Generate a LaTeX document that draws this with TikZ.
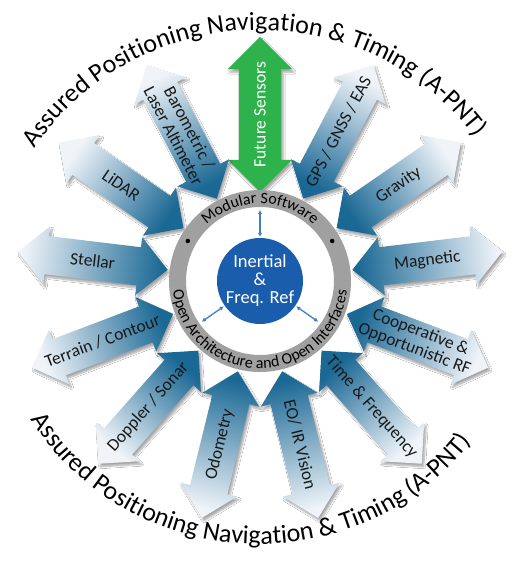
\documentclass[tikz,border=0pt]{standalone}
\usepackage{fontspec}
\setmainfont{Carlito}
\usetikzlibrary{shapes.arrows, decorations.text, shadows.blur, arrows.meta}

\definecolor{arrdark}{RGB}{26,104,148}
\definecolor{arrlight}{RGB}{240,244,249}
\definecolor{futgreen}{RGB}{46,179,76}
\definecolor{coreblue}{RGB}{25,93,172}
\definecolor{ringgray}{RGB}{160,160,160}
\definecolor{linkblue}{RGB}{62,128,200}

\newcommand\titlefont{\fontsize{26}{26}\selectfont}
\newcommand\ringfont{\fontsize{16}{16}\selectfont}

\tikzset{
  arrowbody/.style={double arrow, double arrow head extend=10pt,
    inner xsep=0pt, inner ysep=19pt, minimum height=151pt,
    blur shadow={shadow xshift=2pt, shadow yshift=-3pt,
      shadow blur steps=8, shadow opacity=35}},
  sensor/.style={arrowbody, top color=arrlight, bottom color=arrdark},
  future/.style={arrowbody, fill=futgreen, inner ysep=21pt,
    double arrow head extend=11pt, minimum height=155pt},
  sensortext/.style={font=\fontsize{17.5}{18}\selectfont, align=center,
    text=black!90, inner sep=0pt},
  ringdot/.style={circle, fill=black, inner sep=0pt, minimum size=4.5pt},
  link/.style={linkblue, line width=1.3pt,
    {Latex[length=4pt,width=4.5pt]}-{Latex[length=4pt,width=4.5pt]},
    shorten <=1pt}
}

\begin{document}
\begin{tikzpicture}[x=1pt, y=1pt]
\useasboundingbox (-260,-283) rectangle (260,281);
\fill[white] (-260,-283) rectangle (260,281);

% sensor arrows
\node[future, rotate=90] (future) at (90:166.5) {};
\node[sensortext, text=white, rotate=90] (future-t) at (future.center) {Future Sensors};
\foreach \ang/\nm/\txt in {62.3/gps/{GPS / GNSS / EAS}, 34.6/gravity/Gravity,
    6.9/magnetic/Magnetic, -20.8/coop/{Cooperative \&\\Opportunistic RF},
    -48.5/timefreq/{Time \& Frequency}, -76.2/eoir/{EO/ IR Vision},
    -103.8/odometry/Odometry, -131.5/doppler/{Doppler / Sonar},
    -159.2/terrain/{Terrain / Contour}, 173.1/stellar/Stellar,
    145.4/lidar/LiDAR, 117.7/baro/{Barometric /\\Laser Altimeter}} {
  \pgfmathsetmacro\rot{cos(\ang) < -0.01 ? \ang+180 : \ang}
  \pgfmathsetmacro\shang{\ang-90}
  \node[sensor, rotate=\ang, shading angle=\shang] (\nm) at (\ang:168.5) {};
  \node[sensortext, rotate=\rot] (\nm-t) at (\nm.center) {\txt};
}

% ring and core
\node[circle, draw=ringgray, line width=17pt, minimum size=165pt, inner sep=0pt] (ring) at (0,0) {};
\path (151:82.5) node[ringdot] (dot1) {} (29:82.5) node[ringdot] (dot2) {};
\path[decorate, decoration={text along path, text align=center,
    text={|\ringfont|Modular Software}}]
  (170:77.5) arc[start angle=170, end angle=10, radius=77.5];
\path[decorate, decoration={text along path, text align=center,
    text={|\ringfont|Open Architecture and Open Interfaces}}]
  (-185:87.5) arc[start angle=-185, end angle=5, radius=87.5];

\node[circle, fill=coreblue, minimum size=86pt, inner sep=0pt, text=white,
  align=center, font=\fontsize{18.5}{18}\selectfont] (core) at (0,0) {Inertial\\\&\\Freq. Ref};
\path (90:71) coordinate (s1) (215:71) coordinate (s2) (325:71) coordinate (s3);
\foreach \k/\a in {1/90, 2/215, 3/325}
  \draw[link] (core.\a) -- (s\k);

% title around
\path[decorate, decoration={text along path, text align=center,
    text={|\titlefont|Assured Positioning Navigation {\&} Timing (A-PNT)}}]
  (-1,-6) ++(171.5:266 and 257) arc[start angle=171.5, end angle=11.5, x radius=266, y radius=257];
\path[decorate, decoration={text along path, text align=center,
    text={|\titlefont|Assured Positioning Navigation {\&} Timing (A-PNT)}}]
  (-1,-6) ++(-173:266 and 257) arc[start angle=-173, end angle=-13, x radius=266, y radius=257];
\end{tikzpicture}
\end{document}
